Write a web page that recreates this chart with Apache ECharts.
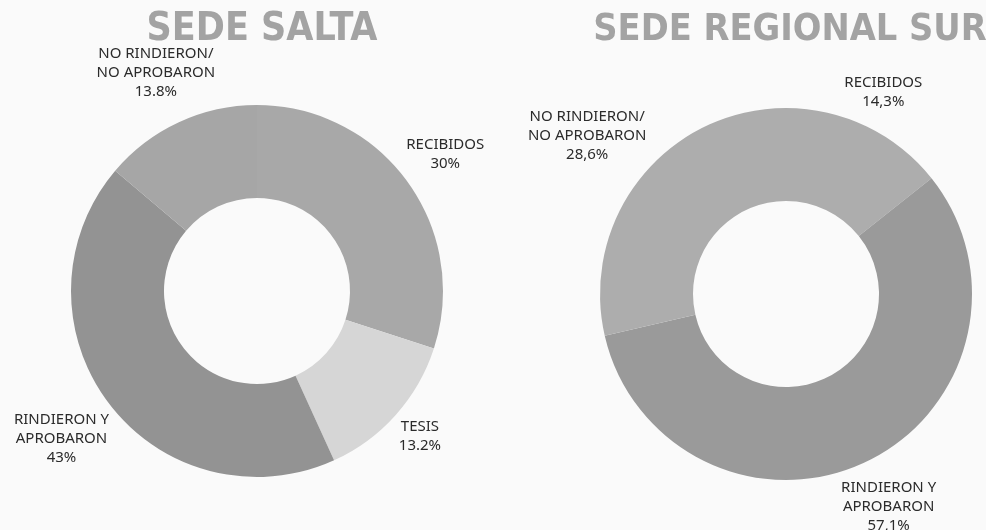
<!DOCTYPE html>
<html>
<head>
<meta charset="utf-8">
<title>Sede Salta / Sede Regional Sur</title>
<script src="https://cdn.jsdelivr.net/npm/echarts@6/dist/echarts.min.js"></script>
<style>
  html, body { margin: 0; padding: 0; background: #fafafa; }
  #chart { width: 986px; height: 530px; }
</style>
</head>
<body>
<div id="chart"></div>
<script>
// Sede Salta
const saltaNames = ['RECIBIDOS', 'TESIS', 'RINDIERON Y\nAPROBARON', 'NO RINDIERON/\nNO APROBARON']
const saltaValues = [30, 13.2, 43, 13.8]
const saltaPct = ['30%', '13.2%', '43%', '13.8%']
const saltaColors = ['#a8a8a8', '#d6d6d6', '#939393', '#a6a6a6']

// Sede Regional Sur
const surNames = ['RECIBIDOS', 'RINDIERON Y\nAPROBARON', 'NO RINDIERON/\nNO APROBARON']
const surValues = [14.3, 57.1, 28.6]
const surPct = ['14,3%', '57,1%', '28,6%']
const surColors = ['#adadad', '#9a9a9a', '#adadad']

const labelFont = '"Noto Sans", "Open Sans", sans-serif'
const titleFont = '"DejaVu Sans Condensed", "DejaVu Sans", sans-serif'

// puts each label on the middle angle of its slice, just outside the ring
function outsideLabels (values, cx, cy, r, gap) {
  const total = values.reduce((a, b) => a + b, 0)
  return function (params) {
    let before = 0
    for (let i = 0; i < params.dataIndex; i++) before += values[i]
    const mid = (before + values[params.dataIndex] / 2) / total * Math.PI * 2
    const ux = Math.sin(mid)
    const uy = -Math.cos(mid)
    const w = params.labelRect.width / 2
    const h = params.labelRect.height / 2
    const d = r + gap + Math.abs(ux) * w + Math.abs(uy) * h
    return { x: cx + ux * d, y: cy + uy * d, align: 'center', verticalAlign: 'middle' }
  }
}

function donut (names, values, pct, colors, cx, cy) {
  return {
    type: 'pie',
    center: [cx, cy],
    radius: [93, 186],
    startAngle: 90,
    clockwise: true,
    avoidLabelOverlap: false,
    silent: true,
    data: names.map((n, i) => ({ name: n, value: values[i], itemStyle: { color: colors[i] } })),
    itemStyle: { borderWidth: 0 },
    label: {
      show: true,
      position: 'outside',
      formatter: p => p.name + '\n' + pct[p.dataIndex],
      fontFamily: labelFont,
      fontSize: 15,
      lineHeight: 19,
      color: '#2b2b2b',
      align: 'center'
    },
    labelLine: { show: false },
    labelLayout: outsideLabels(values, cx, cy, 186, 4)
  }
}

const myChart = echarts.init(document.getElementById('chart'))
myChart.setOption({
  backgroundColor: '#fafafa',
  animation: false,
  title: [
    {
      text: 'SEDE SALTA',
      left: 257,
      top: 5,
      textAlign: 'center',
      textStyle: { fontFamily: titleFont, fontSize: 39, fontWeight: 'bold', color: '#a3a3a3' }
    },
    {
      text: 'SEDE REGIONAL SUR',
      left: 785,
      top: 6,
      textAlign: 'center',
      textStyle: { fontFamily: titleFont, fontSize: 37.5, fontWeight: 'bold', color: '#a3a3a3' }
    }
  ],
  series: [
    donut(saltaNames, saltaValues, saltaPct, saltaColors, 257, 291),
    donut(surNames, surValues, surPct, surColors, 786, 294)
  ]
})
</script>
</body>
</html>
